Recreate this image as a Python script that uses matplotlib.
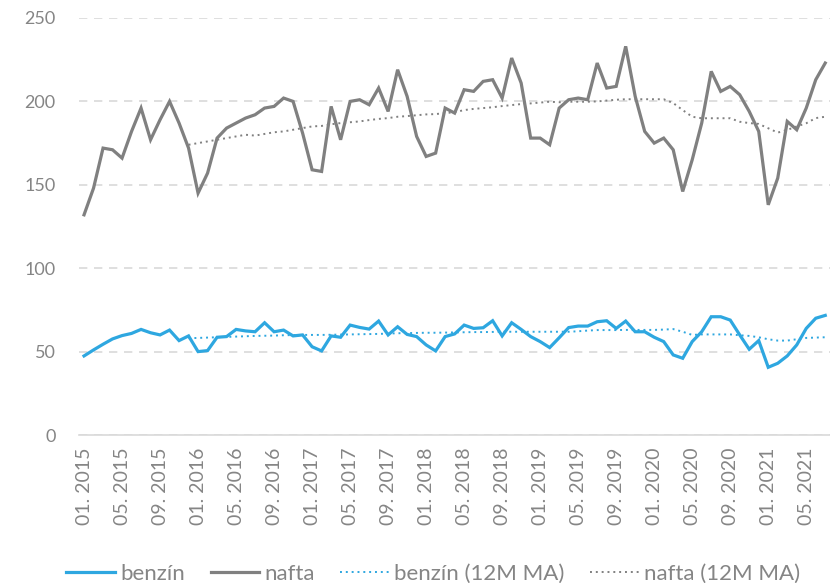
import matplotlib.pyplot as plt

plt.rcParams['font.family'] = ['Lato', 'DejaVu Sans']

# months 01.2015 .. 07.2021
months = [f'{m:02d}. {y}' for y in range(2015, 2022) for m in range(1, 13)][:79]

nafta = [132, 148, 172, 171, 166, 182, 196, 177, 189, 200, 187, 172,
         145, 157, 178, 184, 187, 190, 192, 196, 197, 202, 200, 181,
         159, 158, 197, 177, 200, 201, 198, 208, 194, 219, 203, 179,
         167, 169, 196, 193, 207, 206, 212, 213, 202, 226, 211, 178,
         178, 174, 196, 201, 202, 201, 223, 208, 209, 233, 203, 182,
         175, 178, 171, 146, 165, 187, 218, 206, 209, 204, 194, 182,
         138, 154, 188, 183, 196, 213, 223]

benzin = [47.4, 51.0, 54.4, 57.6, 59.6, 60.9, 63.3, 61.3, 60.0, 62.9, 56.6, 59.4,
          50.0, 50.6, 58.6, 59.0, 63.3, 62.4, 61.9, 67.3, 61.9, 62.9, 59.4, 60.0,
          52.9, 50.4, 59.4, 58.6, 65.9, 64.5, 63.5, 68.3, 60.0, 64.9, 60.3, 59.0,
          54.0, 50.4, 59.0, 60.6, 65.9, 63.9, 64.3, 68.5, 59.4, 67.3, 63.3, 59.0,
          56.0, 52.4, 58.3, 64.4, 65.3, 65.3, 67.9, 68.5, 63.9, 68.3, 61.9, 61.9,
          58.6, 56.0, 48.0, 46.0, 56.0, 61.9, 70.9, 70.9, 68.9, 60.0, 51.4, 56.6,
          40.6, 43.0, 47.4, 54.0, 63.9, 70.0, 71.7]

# 12M moving averages (start in 12.2015)
nafta_ma = [None] * 11 + [
    174, 175, 176, 177, 178, 179, 180, 179.5, 180.5, 181.5, 182, 183, 184,
    185, 185.3, 186.3, 187, 187.5, 188, 188.8, 189.5, 190, 190.8, 191.2, 191.7,
    192.2, 192.4, 193, 193.5, 194.8, 195.5, 196, 196.5, 197.2, 197.8, 198.4, 198.8,
    199.3, 199.8, 199.5, 199.8, 199.8, 199.8, 200, 200.5, 201,
    201.3, 201.3, 201.3, 201.3, 201.3,
    199, 194.8, 190.8, 189.9, 189.9, 189.9, 189.9, 187.8, 187, 186.5, 183.9,
    181.3, 182.9, 185, 186.9, 190, 190.8]

benzin_ma = [None] * 11 + [
    58.0, 58.2, 58.4, 58.6, 58.8, 59.0, 59.2, 59.4, 59.5, 59.6, 59.8, 59.9, 60.0,
    60.0, 60.0, 60.1, 60.2, 60.3, 60.4, 60.5, 60.6, 60.8, 61.0, 61.1, 61.2,
    61.3, 61.3, 61.4, 61.5, 61.6, 61.7, 61.7, 61.8, 61.9, 61.9, 61.9, 61.9,
    61.9, 61.9, 61.9, 61.9, 62.2, 62.6, 62.9, 62.9, 62.9, 63.0,
    63.0, 63.0, 63.0, 63.2,
    63.5, 61.9, 60.0, 60.3, 60.3, 60.3, 60.3, 59.8, 59.4, 58.6, 57.4,
    56.6, 56.6, 57.4, 58.2, 58.4, 58.6]

blue = '#2EA7E0'
gray = '#808080'

fig = plt.figure(figsize=(8.3, 5.83), dpi=100)
ax = fig.add_axes([79 / 830, 148 / 583, 751 / 830, 417 / 583])

x = range(len(months))
ax.plot(x, benzin, color=blue, lw=2.3, label='benzín', solid_joinstyle='miter')
ax.plot(x, nafta, color=gray, lw=2.3, label='nafta', solid_joinstyle='miter')
ax.plot(x, benzin_ma, color=blue, lw=1.4, ls=(0, (1, 2)), label='benzín (12M MA)')
ax.plot(x, nafta_ma, color=gray, lw=1.4, ls=(0, (1, 2)), label='nafta (12M MA)')

ax.set_ylim(0, 250)
ax.set_yticks(range(0, 251, 50))
ax.set_xlim(-0.53, 78.5)
ax.set_xticks(list(x)[::4])
ax.set_xticklabels(months[::4], rotation=90)

ax.grid(axis='y', color='#D9D9D9', ls=(0, (5, 4)), lw=1.2)
ax.set_axisbelow(True)
for s in ['top', 'right', 'left']:
    ax.spines[s].set_visible(False)
ax.spines['bottom'].set_color('#D9D9D9')
ax.spines['bottom'].set_linewidth(1.2)
ax.tick_params(axis='both', length=0, colors='#858585', labelsize=13)
ax.tick_params(axis='x', labelsize=14, pad=9)
ax.tick_params(axis='y', pad=17)

fig.legend(loc='lower center', ncol=4, frameon=False, fontsize=16,
           bbox_to_anchor=(0.522, -0.036), handlelength=2.2, columnspacing=1.15,
           handletextpad=0.22, labelcolor='#858585')

fig.savefig('out.png', dpi=100)
